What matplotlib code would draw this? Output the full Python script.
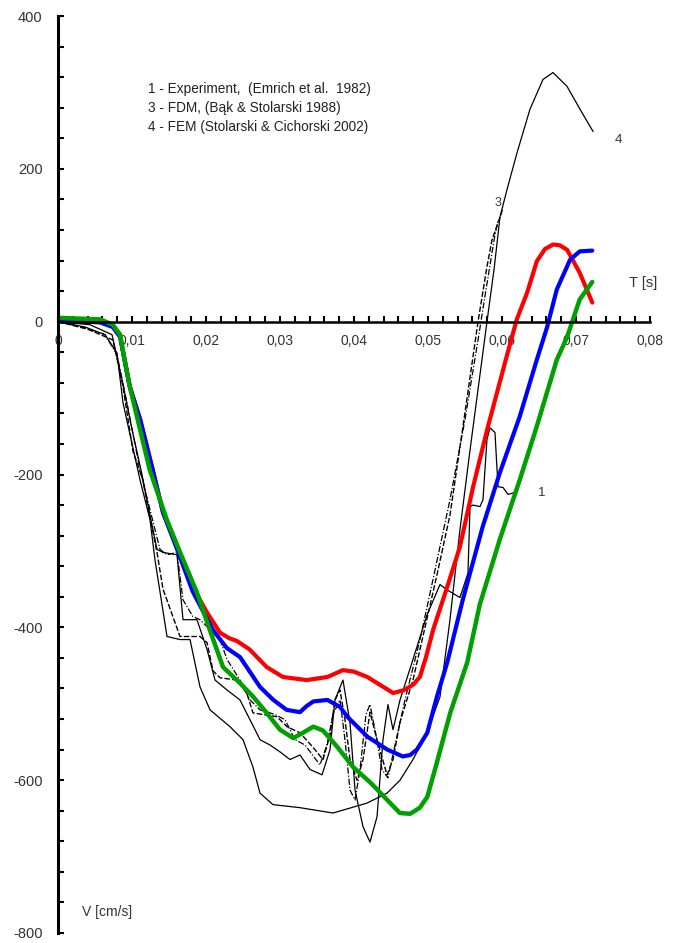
import matplotlib
matplotlib.use("Agg")
import matplotlib.pyplot as plt
from matplotlib.ticker import MultipleLocator

plt.rcParams["font.family"] = ["Liberation Sans", "DejaVu Sans"]
plt.rcParams["axes.unicode_minus"] = False

# coloured model curves
red_t = [0, 0.0057, 0.0074, 0.0084, 0.0090, 0.0097, 0.0111, 0.0128, 0.0142, 0.0161, 0.0182,
         0.0201, 0.0219, 0.0231, 0.0242, 0.0259, 0.0282, 0.0304, 0.0336, 0.0364, 0.0385, 0.0400,
         0.0418, 0.0453, 0.0468, 0.0480, 0.0489, 0.0497, 0.0507, 0.0526, 0.0543, 0.0561, 0.0580,
         0.0607, 0.0620, 0.0634, 0.0647, 0.0658, 0.0669, 0.0678, 0.0688, 0.0705, 0.0722]
red_v = [3, 0, -5, -20, -50, -85, -128, -194, -250, -295, -347,
         -380, -407, -414, -418, -429, -452, -465, -469, -465, -456, -458,
         -465, -486, -482, -475, -465, -440, -403, -347, -295, -216, -141,
         -43, 3, 38, 79, 95, 101, 100, 94, 64, 25]

blue_t = [0, 0.0057, 0.0074, 0.0084, 0.0090, 0.0097, 0.0111, 0.0128, 0.0142, 0.0161, 0.0182,
          0.0209, 0.0228, 0.0246, 0.0273, 0.0291, 0.0309, 0.0327, 0.0336, 0.0345, 0.0364, 0.0381,
          0.0391, 0.0418, 0.0445, 0.0466, 0.0476, 0.0485, 0.0499, 0.0512, 0.0526, 0.0547, 0.0574,
          0.0597, 0.0624, 0.0647, 0.0661, 0.0674, 0.0692, 0.0705, 0.0722]
blue_v = [2, -1, -7, -20, -50, -85, -128, -194, -250, -298, -353,
          -403, -427, -439, -478, -495, -508, -511, -503, -497, -495, -504,
          -517, -543, -560, -569, -567, -560, -538, -491, -446, -364, -268,
          -198, -124, -50, -7, 42, 81, 92, 93]

green_t = [0, 0.0057, 0.0074, 0.0084, 0.0090, 0.0097, 0.0124, 0.0147, 0.0165, 0.0188, 0.0205,
           0.0223, 0.0246, 0.0264, 0.0282, 0.0300, 0.0318, 0.0331, 0.0345, 0.0358, 0.0377,
           0.0399, 0.0422, 0.0445, 0.0462, 0.0476, 0.0489, 0.0499, 0.0512, 0.0530, 0.0553,
           0.0570, 0.0597, 0.0624, 0.0647, 0.0674, 0.0688, 0.0705, 0.0722]
green_v = [5, 3, -4, -17, -50, -85, -194, -259, -302, -355, -403,
           -452, -473, -491, -512, -534, -545, -538, -530, -535, -556,
           -583, -603, -626, -643, -644, -636, -622, -577, -512, -446,
           -370, -285, -207, -137, -50, -20, 29, 52]

# black curves: 1 experiment, 2 dash-dot, 3 FDM, 4 FEM
c1_t = [0, 0.00432, 0.0073, 0.00865, 0.0100, 0.01135, 0.01243, 0.01338, 0.01419, 0.01608,
        0.01689, 0.01878, 0.02014, 0.02122, 0.02284, 0.02459, 0.02595, 0.0273, 0.02865, 0.0300,
        0.03135, 0.0327, 0.03405, 0.03568, 0.03676, 0.03743, 0.03851, 0.03946, 0.04014, 0.04122,
        0.04216, 0.04311, 0.04392, 0.04459, 0.04527, 0.04622, 0.04797, 0.04986, 0.05162, 0.05257,
        0.05432, 0.0554, 0.05568, 0.05608, 0.05703, 0.05743, 0.05797, 0.05838, 0.05905, 0.05946,
        0.06014, 0.06081, 0.06203]
c1_v = [0, -4, -17, -76, -141, -200, -253, -298, -302, -305,
        -390, -390, -429, -469, -482, -495, -521, -547, -554, -563,
        -573, -567, -586, -593, -560, -495, -469, -525, -613, -661,
        -681, -648, -547, -501, -534, -495, -442, -384, -344, -351,
        -361, -329, -242, -240, -242, -233, -154, -139, -145, -216,
        -217, -226, -223]

c2_t = [0, 0.00365, 0.00635, 0.00797, 0.00932, 0.01108, 0.01243, 0.01378, 0.01473, 0.01608,
        0.01689, 0.01824, 0.01919, 0.02054, 0.02189, 0.02284, 0.02459, 0.02595, 0.0273, 0.02932,
        0.03068, 0.03203, 0.03338, 0.0354, 0.03635, 0.03716, 0.03811, 0.03878, 0.03946, 0.04014,
        0.04081, 0.04162, 0.04216, 0.04284, 0.04378, 0.04459, 0.04554, 0.04689, 0.04892, 0.05095,
        0.05297, 0.0550, 0.05676, 0.05784, 0.05905, 0.05946]
c2_v = [0, -8, -17, -43, -106, -194, -246, -298, -305, -302,
        -364, -386, -390, -403, -416, -442, -469, -495, -508, -514,
        -521, -547, -554, -580, -554, -514, -495, -547, -613, -626,
        -586, -514, -501, -534, -586, -597, -554, -495, -416, -325,
        -233, -128, -24, 42, 114, 131]

c3_t = [0, 0.00405, 0.00743, 0.00878, 0.01014, 0.01149, 0.01203, 0.01338, 0.01419, 0.01649,
        0.01919, 0.02014, 0.02095, 0.02189, 0.02419, 0.02554, 0.02635, 0.02959, 0.03095, 0.0327,
        0.03446, 0.03581, 0.03676, 0.03743, 0.03811, 0.03878, 0.03946, 0.04041, 0.04122, 0.04216,
        0.04311, 0.04446, 0.04527, 0.04622, 0.04797, 0.05122, 0.05297, 0.05473, 0.05676, 0.05797,
        0.05865, 0.05973, 0.06014]
c3_v = [0, -10, -24, -85, -170, -208, -237, -302, -350, -412,
        -412, -420, -457, -466, -469, -487, -512, -517, -530, -538,
        -557, -573, -541, -495, -482, -521, -573, -600, -573, -511,
        -547, -593, -573, -524, -469, -331, -253, -137, 0, 72,
        107, 137, 149]

c4_t = [0, 0.00365, 0.00635, 0.00797, 0.00878, 0.01108, 0.01243, 0.01311, 0.01473, 0.01649,
        0.01784, 0.01919, 0.02054, 0.02324, 0.0250, 0.02635, 0.0273, 0.02905, 0.0327, 0.03716,
        0.04176, 0.04446, 0.04622, 0.04797, 0.04986, 0.05162, 0.05297, 0.05432, 0.05568, 0.05703,
        0.05797, 0.05892, 0.05973, 0.06068, 0.06203, 0.06378, 0.06554, 0.06689, 0.06878, 0.07054,
        0.0723]
c4_v = [0, -7, -17, -41, -106, -207, -259, -312, -412, -416,
        -416, -478, -508, -530, -547, -583, -617, -632, -636, -643,
        -630, -617, -600, -573, -538, -491, -390, -272, -168, -69,
        0, 68, 137, 173, 221, 278, 317, 326, 308, 278,
        249]

legend_lines = ["1 - Experiment,  (Emrich et al.  1982)",
                "3 - FDM, (Bąk & Stolarski 1988)",
                "4 - FEM (Stolarski & Cichorski 2002)"]
x_tick_vals = [0, 0.01, 0.02, 0.03, 0.04, 0.05, 0.06, 0.07, 0.08]
x_tick_labels = ["0", "0,01", "0,02", "0,03", "0,04", "0,05", "0,06", "0,07", "0,08"]
y_tick_vals = [-800, -600, -400, -200, 0, 200, 400]


def main():
    fig = plt.figure(figsize=(6.73, 9.43), dpi=100)
    ax = fig.add_axes([58 / 673, 10 / 943, 592 / 673, 917 / 943])

    ax.plot(c4_t, c4_v, color="black", lw=0.9)
    ax.plot(c1_t, c1_v, color="black", lw=0.9)
    ax.plot(c2_t, c2_v, color="black", lw=0.9, ls=(0, (5, 1.5, 1, 1.5)))
    ax.plot(c3_t, c3_v, color="black", lw=1.0, ls=(0, (4, 1.5)))

    style = dict(solid_capstyle="round", solid_joinstyle="round")
    ax.plot(red_t, red_v, color="#ff0000", lw=3, **style)
    ax.plot(blue_t, blue_v, color="#0000ff", lw=3, **style)
    ax.plot(green_t, green_v, color="#00a000", lw=3.2, **style)

    ax.set_xlim(0, 0.08)
    ax.set_ylim(-800, 400)
    for side in ("top", "right"):
        ax.spines[side].set_visible(False)
    ax.spines["bottom"].set_position(("data", 0))
    ax.spines["left"].set_linewidth(2.2)
    ax.spines["bottom"].set_linewidth(1.8)

    ax.set_xticks(x_tick_vals)
    ax.set_xticklabels(x_tick_labels)
    ax.set_yticks(y_tick_vals)
    ax.xaxis.set_minor_locator(MultipleLocator(0.002))
    ax.yaxis.set_minor_locator(MultipleLocator(40))
    ax.tick_params(axis="both", which="both", direction="in", width=1.5, length=4,
                   labelsize=10.5, labelcolor="#333333")
    ax.tick_params(axis="x", labelsize=10, pad=9)
    ax.tick_params(axis="y", pad=11)

    for i, line in enumerate(legend_lines):
        ax.text(0.0121, 304 - i * 24.5, line, fontsize=9.8, color="#222222", va="center")

    ax.text(0.0772, 51, "T [s]", fontsize=10.5, color="#333333", va="center")
    ax.text(0.0032, -772, "V [cm/s]", fontsize=10, color="#333333", va="center")
    ax.text(0.0752, 238, "4", fontsize=9.5, color="#333333", va="center")
    ax.text(0.0590, 155, "3", fontsize=9, color="#333333", va="center")
    ax.text(0.0649, -224, "1", fontsize=9.5, color="#333333", va="center")

    fig.savefig("out.png", dpi=100, facecolor="white")


if __name__ == "__main__":
    main()
